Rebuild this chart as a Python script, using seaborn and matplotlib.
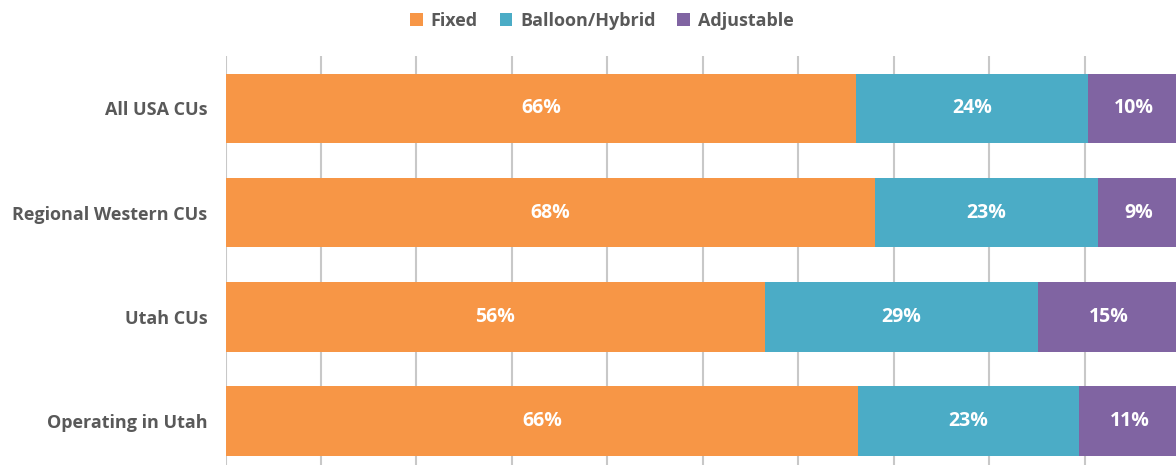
import matplotlib
matplotlib.use('Agg')
import matplotlib.pyplot as plt
import numpy as np
import pandas as pd
import seaborn as sns
from matplotlib.patches import Patch

# data (percent of loans)
groups = ['All USA CUs', 'Regional Western CUs', 'Utah CUs', 'Operating in Utah']
fixed = [66.1, 68.0, 56.5, 66.3]
balloon = [24.3, 23.4, 28.6, 23.1]
adjustable = [9.6, 8.6, 14.9, 10.6]
series_names = ['Fixed', 'Balloon/Hybrid', 'Adjustable']
colors = ['#F79646', '#4BACC6', '#8064A2']

sns.set_theme(style='white')
plt.rcParams['font.family'] = ['Open Sans', 'DejaVu Sans']
text_grey = '#595959'

df = pd.DataFrame({'group': groups, 'Fixed': fixed,
                   'Balloon/Hybrid': balloon, 'Adjustable': adjustable})
df['cum1'] = df['Fixed']
df['cum2'] = df['Fixed'] + df['Balloon/Hybrid']
df['cum3'] = df['cum2'] + df['Adjustable']

fig = plt.figure(figsize=(11.76, 4.65), dpi=100)
ax = fig.add_axes([225.5 / 1176, -8 / 465, 954.5 / 1176, 416.6 / 465])

# stacked look: draw the running totals back to front
for col, c in zip(['cum3', 'cum2', 'cum1'], colors[::-1]):
    sns.barplot(data=df, y='group', x=col, orient='h', color=c, width=0.667,
                saturation=1, ax=ax, zorder=3, linewidth=0)

ax.set_xlim(0, 100)
ax.set_ylim(3.5, -0.5)
ax.set_xticks(np.arange(0, 101, 10))
ax.set_xticklabels([])
ax.xaxis.grid(True, color='#c8c8c8', linewidth=1.5, zorder=0)
ax.yaxis.grid(False)
ax.set_xlabel('')
ax.set_ylabel('')
for s in ax.spines.values():
    s.set_visible(False)
ax.tick_params(axis='y', length=0, pad=13)
ax.tick_params(axis='x', length=0)
for lab in ax.get_yticklabels():
    lab.set_fontsize(13)
    lab.set_fontweight('bold')
    lab.set_color(text_grey)

# segment labels
starts = [np.zeros(len(groups)), df['cum1'].values, df['cum2'].values]
for vals, st in zip([fixed, balloon, adjustable], starts):
    for i, (v, s0) in enumerate(zip(vals, st)):
        ax.text(s0 + v / 2, i, f'{round(v)}%', ha='center', va='center',
                color='white', fontsize=14, fontweight='bold', zorder=5)

handles = [Patch(facecolor=c, edgecolor='none', label=n) for n, c in zip(series_names, colors)]
leg = fig.legend(handles=handles, loc='center', bbox_to_anchor=(602 / 1176, 1 - 21 / 465),
                 ncol=3, frameon=False, handlelength=0.7, handleheight=0.7,
                 handletextpad=0.45, columnspacing=1.2, fontsize=13)
for t in leg.get_texts():
    t.set_color(text_grey)
    t.set_fontweight('bold')

fig.savefig('out.png', dpi=100)
